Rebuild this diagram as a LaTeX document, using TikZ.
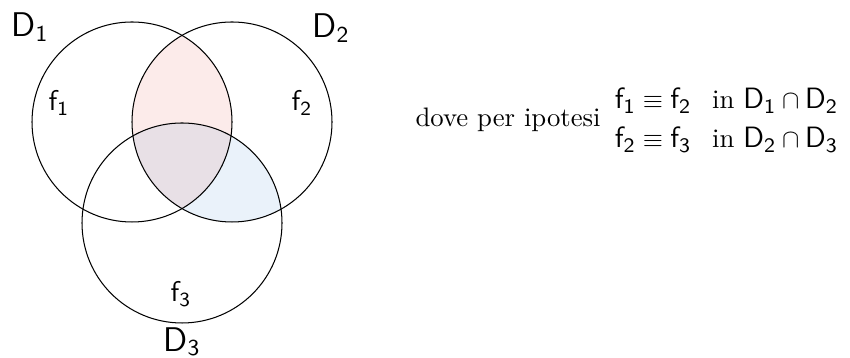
\documentclass[tikz,border=0pt]{standalone}
\usepackage{amsmath,amssymb}
\usepackage{fontspec}
\setsansfont{Latin Modern Sans}[Scale=1.1]
\usepackage{tikz}
\usetikzlibrary{positioning}
\definecolor{lenspink}{HTML}{FCEBEA}
\definecolor{lensblue}{HTML}{EAF2FA}
\definecolor{lensgrey}{HTML}{E8E0E6}
\newcommand{\sfsub}[2]{\mathsf{#1}_{\mathsf{#2}}}

\begin{document}
\begin{tikzpicture}[
x=1.354cm,y=1.354cm,
venn/.style={draw,thin},
dom/.style={font=\large,inner sep=1pt},
fun/.style={font=\normalsize,inner sep=1pt}
]
\useasboundingbox (0,0) rectangle (8.5,3.58);
\coordinate (c1) at (1.32,2.36);
\coordinate (c2) at (2.32,2.36);
\coordinate (c3) at (1.82,1.35);

% fills of the overlaps
\begin{scope}
\clip (c1) circle (1);
\fill[lenspink] (c2) circle (1);
\end{scope}
\begin{scope}
\clip (c2) circle (1);
\fill[lensblue] (c3) circle (1);
\end{scope}
\begin{scope}
\clip (c1) circle (1);
\clip (c2) circle (1);
\fill[lensgrey] (c3) circle (1);
\end{scope}

\draw[venn] (c1) circle (1);
\draw[venn] (c2) circle (1);
\draw[venn] (c3) circle (1);

\node[dom] (d1) at (0.30,3.31) {$\sfsub{D}{1}$};
\node[dom] (d2) at (3.31,3.30) {$\sfsub{D}{2}$};
\node[dom] (d3) at (1.82,0.16) {$\sfsub{D}{3}$};
\node[fun] (f1) at (0.59,2.55) {$\sfsub{f}{1}$};
\node[fun] (f2) at (3.02,2.55) {$\sfsub{f}{2}$};
\node[fun] (f3) at (1.81,0.64) {$\sfsub{f}{3}$};

\node[anchor=west,inner sep=0pt,font=\fontsize{10.3}{12.4}\selectfont] (hyp) at (4.15,2.38)
{\renewcommand{\arraystretch}{1.2}%
dove per ipotesi $\begin{array}{@{\hspace{2pt}}l@{\hspace{8pt}}l@{}}
\sfsub{f}{1}\equiv\sfsub{f}{2} & \text{in } \sfsub{D}{1}\cap\sfsub{D}{2}\\
\sfsub{f}{2}\equiv\sfsub{f}{3} & \text{in } \sfsub{D}{2}\cap\sfsub{D}{3}
\end{array}$};
\end{tikzpicture}
\end{document}
